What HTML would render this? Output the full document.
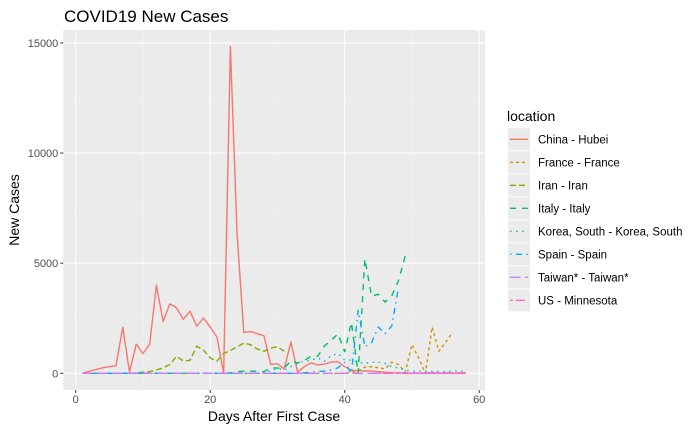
<!DOCTYPE html>
<html><head><meta charset="utf-8"><style>
body{margin:0;background:#fff;}
svg text{font-family:"Liberation Sans",sans-serif;}
</style></head><body>
<svg id="chart" width="700" height="432" xmlns="http://www.w3.org/2000/svg">
<rect width="700" height="432" fill="#fff"/>
<text x="64" y="22" font-size="17" fill="#000">COVID19 New Cases</text>
<rect x="63.3" y="30" width="421.7" height="360" fill="#EBEBEB"/>
<g id="grid"></g>
<g id="series"></g>
<g id="axes"></g>
<text x="274" y="421" font-size="14" text-anchor="middle" fill="#000">Days After First Case</text>
<text transform="translate(19,210) rotate(-90)" font-size="14" text-anchor="middle" fill="#000">New Cases</text>
<g id="legend"></g>
</svg>
<script>
const xTicks = [0, 20, 40, 60];
const yTicks = [0, 5000, 10000, 15000];
const seriesNames = ["China - Hubei","France - France","Iran - Iran","Italy - Italy","Korea, South - Korea, South","Spain - Spain","Taiwan* - Taiwan*","US - Minnesota"];
const hubeiStart = 1;
const hubeiValues = [0,90,170,250,300,350,2100,50,1320,900,1320,4000,2350,3150,2970,2450,2820,2140,2510,2100,1650,0,14840,6300,1850,1900,1800,1700,400,430,200,1420,50,300,470,380,420,510,520,300,130,120,110,100,70,50,30,20,10,5,5,5,5,5,5,5,5,5];
const franceStart = 1;
const franceValues = [0,0,0,0,0,0,0,0,0,0,0,0,0,0,0,0,0,0,0,0,0,0,0,0,0,0,0,0,0,0,0,0,0,0,0,0,0,0,0,0,50,100,280,300,250,200,500,400,50,1300,700,0,2100,1000,1400,1850];
const iranStart = 8;
const iranValues = [0,20,50,80,150,250,400,770,560,590,1230,1050,700,550,900,1030,1200,1370,1300,1100,1000,1150,1200,1000];
const italyStart = 1;
const italyValues = [0,0,0,0,0,0,0,0,0,0,0,0,0,0,0,0,0,0,0,0,0,3,17,76,93,97,93,78,250,238,240,561,466,587,769,778,1247,1492,1797,977,2313,0,5198,3497,3590,3233,3526,4207,5322];
const koreaStart = 1;
const koreaValues = [0,0,0,0,0,0,0,0,0,0,0,0,0,0,0,0,0,0,0,0,0,0,0,0,0,0,0,70,100,230,140,300,450,550,600,700,550,800,900,600,600,500,450,500,500,450,300,250,150,100,100,90,80,80,80,90,100,100];
const spainStart = 1;
const spainValues = [0,0,0,0,0,0,0,0,0,0,0,0,0,0,0,0,0,0,0,0,0,0,0,0,0,0,0,0,0,0,0,0,5,20,40,80,100,150,250,500,0,2860,1200,1400,2100,1800,2150,3900];
const taiwanStart = 1;
const taiwanValues = [0,0,0,0,0,0,0,0,0,0,0,0,0,0,0,0,0,0,0,0,0,0,0,0,0,0,0,0,0,0,0,0,0,0,0,0,0,0,0,0,0,0,0,0,0,0,0,10,20,20,10,20,30,20,20,25,30,20];
const mnStart = 45;
const mnValues = [0,0,0,0,0,2,3,5,2,10,5,10,15,20];
const seriesStarts = [hubeiStart,franceStart,iranStart,italyStart,koreaStart,spainStart,taiwanStart,mnStart];
const seriesValues = [hubeiValues,franceValues,iranValues,italyValues,koreaValues,spainValues,taiwanValues,mnValues];
const colors = ["#F8766D","#CD9600","#7CAE00","#00BE67","#00BFC4","#00A9FF","#C77CFF","#FF61CC"];
const s = 1.5;
const dashes = ["", [2,2],[4,2],[4,4],[1,3],[1,3,4,3],[7,3],[2,2,6,2]].map(d => d===""?"":d.map(v=>v*s).join(","));
const LW = 1.4;

const NS = "http://www.w3.org/2000/svg";
const X = d => 75.7 + 6.725 * d;
const Y = v => 373.3 - v * 0.022027;
const PL = 63.3, PR = 485, PT = 30, PB = 390;
function mk(tag, attrs, parent){const e=document.createElementNS(NS,tag);for(const k in attrs)e.setAttribute(k,attrs[k]);parent.appendChild(e);return e;}
const grid = document.getElementById("grid");
const axes = document.getElementById("axes");
for (let i=0;i<xTicks.length-1;i++){
  const m=(xTicks[i]+xTicks[i+1])/2;
  const l=mk("line",{x1:X(m),x2:X(m),y1:PT,y2:PB,stroke:"#F5F5F5","stroke-width":0.55},grid);
  
  
}
for (let i=0;i<yTicks.length-1;i++){
  const m=(yTicks[i]+yTicks[i+1])/2;
  const l=mk("line",{x1:PL,x2:PR,y1:Y(m),y2:Y(m),stroke:"#F5F5F5","stroke-width":0.55},grid);
  
  
}
xTicks.forEach(t=>{
  const l=mk("line",{x1:X(t),x2:X(t),y1:PT,y2:PB,stroke:"#fff","stroke-width":1.1},grid);
  
  
  const tk=mk("line",{x1:X(t),x2:X(t),y1:PB,y2:PB+3,stroke:"#333","stroke-width":1},axes);
  
  
  const tx=mk("text",{x:X(t),y:PB+13,"font-size":11,"text-anchor":"middle",fill:"#4D4D4D"},axes);
  tx.textContent=t;
  
  
});
yTicks.forEach(t=>{
  const l=mk("line",{x1:PL,x2:PR,y1:Y(t),y2:Y(t),stroke:"#fff","stroke-width":1.1},grid);
  
  
  const tk=mk("line",{x1:PL-3,x2:PL,y1:Y(t),y2:Y(t),stroke:"#333","stroke-width":1},axes);
  
  
  const tx=mk("text",{x:PL-5,y:Y(t)+4,"font-size":11,"text-anchor":"end",fill:"#4D4D4D"},axes);
  tx.textContent=t;
  
  
});
const sg=document.getElementById("series");
seriesValues.forEach((vals,i)=>{
  const pts=vals.map((v,j)=>X(seriesStarts[i]+j).toFixed(2)+","+Y(v).toFixed(2)).join(" ");
  const p=mk("polyline",{points:pts,fill:"none",stroke:colors[i],"stroke-width":LW,"stroke-linejoin":"round"},sg);
  if(dashes[i]) p.setAttribute("stroke-dasharray",dashes[i]);
  
  
});
const lg=document.getElementById("legend");
const lt=mk("text",{x:507,y:121,"font-size":14,fill:"#000"},lg);
lt.textContent="location";


seriesNames.forEach((n,i)=>{
  const y0=128.3+i*23;
  const g=mk("g",{},lg);
  
  
  mk("rect",{x:508,y:y0,width:22,height:22,fill:"#EBEBEB"},g);
  const l=mk("line",{x1:510,x2:528,y1:y0+11,y2:y0+11,stroke:colors[i],"stroke-width":LW},g);
  if(dashes[i]) l.setAttribute("stroke-dasharray",dashes[i]);
  const t=mk("text",{x:538,y:y0+15,"font-size":11.5,fill:"#000"},g);
  t.textContent=n;
});
</script>
</body></html>
